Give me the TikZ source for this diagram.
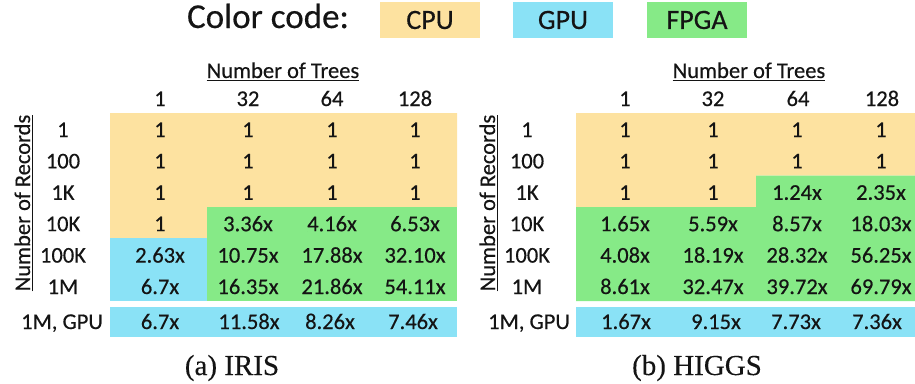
\documentclass[tikz,border=0pt]{standalone}
\usepackage{fontspec}
\setmainfont{Carlito}[FakeBold=0.4]
\newfontfamily\capfont{Liberation Serif}[FakeBold=0.2]
\definecolor{cpu}{RGB}{253,226,160}
\definecolor{gpu}{RGB}{138,226,246}
\definecolor{fpga}{RGB}{134,234,135}
\definecolor{ink}{RGB}{20,20,20}
\begin{document}
\begin{tikzpicture}[x=1pt,y=-1pt, text=ink,
  txt/.style={inner sep=0pt, anchor=base, font=\fontsize{22.5}{27}\selectfont},
  rowlab/.style={txt},
  axislab/.style={inner sep=0pt, anchor=base, font=\fontsize{22.5}{27}\selectfont},
  keybox/.style={minimum width=100pt, minimum height=36pt, inner sep=0pt,
                 font=\fontsize{28}{32}\selectfont},
  capt/.style={inner sep=0pt, anchor=base, font=\capfont\fontsize{29}{34}\selectfont},
  uline/.style={line width=1.7pt, draw=ink}]
\useasboundingbox (0,0) rectangle (915,383);

% ---------- colour legend ----------
\node[inner sep=0pt, anchor=base, font=\fontsize{35}{40}\selectfont] (code) at (268,28) {Color code:};
\node[keybox, fill=cpu]  (kcpu)  at (430,20) {CPU};
\node[keybox, fill=gpu]  (kgpu)  at (563,20) {GPU};
\node[keybox, fill=fpga] (kfpga) at (697,20) {FPGA};

% ---------- (a) IRIS ----------
\fill[cpu] (110,113) -- (457,113) -- (457,207) -- (207,207) -- (207,238.3) -- (110,238.3) -- cycle;
\fill[gpu] (110,238.3) rectangle (207,301);
\fill[fpga] (207,207) rectangle (457,301);
\fill[gpu] (110,307) rectangle (457,337);

\node[axislab] (treesA) at (283,78) {Number of Trees};
\draw[uline] ([yshift=-2.5pt]treesA.base west) -- ([yshift=-2.5pt]treesA.base east);
\node[axislab, rotate=90] (recA) at (30,203) {Number of Records};
\draw[uline] ([xshift=2.5pt]recA.base west) -- ([xshift=2.5pt]recA.base east);

\foreach \h [count=\c] in {1,32,64,128} {
  \pgfmathsetmacro\cx{{160,248,332,415}[\c-1]}
  \node[txt] (hA-\c) at (\cx,106) {\h};
}
\foreach \lab [count=\r] in {1,100,1K,10K,100K,1M} {
  \pgfmathsetmacro\by{137+31.4*(\r-1)}
  \node[rowlab] (rA-\r) at (63,\by) {\lab};
}
\foreach \vals [count=\r] in {
  {1,1,1,1},{1,1,1,1},{1,1,1,1},
  {1,3.36x,4.16x,6.53x},
  {2.63x,10.75x,17.88x,32.10x},
  {6.7x,16.35x,21.86x,54.11x}} {
  \pgfmathsetmacro\by{137+31.4*(\r-1)}
  \foreach \v [count=\c] in \vals {
    \pgfmathsetmacro\cx{{160,248,332,415}[\c-1]}
    \node[txt] (A-\r-\c) at (\cx,\by) {\v};
  }
}
\node[txt, anchor=base east] (gA) at (103,329) {1M, GPU};
\foreach \v [count=\c] in {6.7x,11.58x,8.26x,7.46x} {
  \pgfmathsetmacro\cx{{160,249,330,413}[\c-1]}
  \node[txt] (gA-\c) at (\cx,329) {\v};
}
\node[capt] (capA) at (232,375) {(a) IRIS};

% ---------- (b) HIGGS ----------
\fill[cpu] (576,113) -- (915,113) -- (915,175.7) -- (756,175.7) -- (756,207) -- (576,207) -- cycle;
\fill[fpga] (756,175.7) -- (915,175.7) -- (915,301) -- (576,301) -- (576,207) -- (756,207) -- cycle;
\fill[gpu] (576,307) rectangle (915,337);

\node[axislab] (treesB) at (749,78) {Number of Trees};
\draw[uline] ([yshift=-2.5pt]treesB.base west) -- ([yshift=-2.5pt]treesB.base east);
\node[axislab, rotate=90] (recB) at (495,203) {Number of Records};
\draw[uline] ([xshift=2.5pt]recB.base west) -- ([xshift=2.5pt]recB.base east);

\foreach \h [count=\c] in {1,32,64,128} {
  \pgfmathsetmacro\cx{{625,713,798,882}[\c-1]}
  \node[txt] (hB-\c) at (\cx,106) {\h};
}
\foreach \lab [count=\r] in {1,100,1K,10K,100K,1M} {
  \pgfmathsetmacro\by{137+31.4*(\r-1)}
  \node[rowlab] (rB-\r) at (527,\by) {\lab};
}
\foreach \vals [count=\r] in {
  {1,1,1,1},{1,1,1,1},
  {1,1,1.24x,2.35x},
  {1.65x,5.59x,8.57x,18.03x},
  {4.08x,18.19x,28.32x,56.25x},
  {8.61x,32.47x,39.72x,69.79x}} {
  \pgfmathsetmacro\by{137+31.4*(\r-1)}
  \foreach \v [count=\c] in \vals {
    \pgfmathsetmacro\cx{{625,713,797,881}[\c-1]}
    \node[txt] (B-\r-\c) at (\cx,\by) {\v};
  }
}
\node[txt, anchor=base east] (gB) at (570,329) {1M, GPU};
\foreach \v [count=\c] in {1.67x,9.15x,7.73x,7.36x} {
  \pgfmathsetmacro\cx{{626,716,796,877}[\c-1]}
  \node[txt] (gB-\c) at (\cx,329) {\v};
}
\node[capt] (capB) at (697,375) {(b) HIGGS};
\end{tikzpicture}
\end{document}
